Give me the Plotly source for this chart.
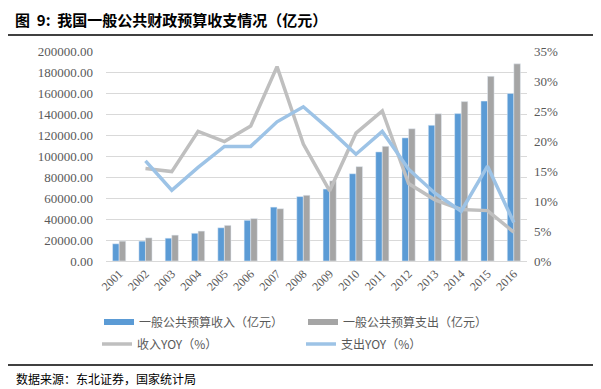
import plotly.graph_objects as go

years = [str(y) for y in range(2001, 2017)]
revenue = [16386, 18904, 21715, 26396, 31649, 38760, 51322, 61330, 68518,
           83102, 103874, 117254, 129210, 140370, 152269, 159605]
expenditure = [18903, 22053, 24650, 28487, 33930, 40423, 49781, 62593, 76300,
               89874, 109248, 125953, 140212, 151786, 175878, 187755]
rev_yoy = [None, 15.4, 14.9, 21.6, 19.9, 22.5, 32.4, 19.5, 11.7, 21.3, 25.0,
           12.9, 10.2, 8.6, 8.4, 4.8]
exp_yoy = [None, 16.7, 11.8, 15.6, 19.1, 19.1, 23.2, 25.7, 21.9, 17.8, 21.6,
           15.3, 11.3, 8.3, 15.8, 6.4]

names = ["一般公共预算收入（亿元）", "一般公共预算支出（亿元）", "收入YOY（%）", "支出YOY（%）"]
c_rev, c_exp, c_ryoy, c_eyoy = "#5b9bd5", "#a5a5a5", "#bfbfbf", "#9dc3e6"

# The page body keeps its default 8px margin, so the figure is 8px smaller
# and every page position below is given minus that offset.
OFF = 8
W, H = 601 - OFF, 389 - OFF
L, R, T, B = 106 - OFF, 527 - OFF, 51 - OFF, 261 - OFF
px = lambda x: (x - OFF - L) / (R - L)
py = lambda y: (B - (y - OFF)) / (B - T)

font_cjk = "Noto Sans CJK SC"
serif = "Liberation Serif, Noto Sans CJK SC"
tick_col = "#595959"

fig = go.Figure()
fig.add_trace(go.Bar(x=years, y=revenue, name=names[0], marker_color=c_rev,
                     showlegend=False, legendgroup="a"))
fig.add_trace(go.Bar(x=years, y=expenditure, name=names[1], marker_color=c_exp,
                     showlegend=False, legendgroup="b"))
# legend swatches for bars (wide flat rectangles like the reference)
fig.add_trace(go.Scatter(x=[None], y=[None], mode="lines", name=names[0],
                         line=dict(color=c_rev, width=6), legend="legend", legendgroup="a"))
fig.add_trace(go.Scatter(x=[None], y=[None], mode="lines", name=names[1],
                         line=dict(color=c_exp, width=6), legend="legend", legendgroup="b"))
fig.add_trace(go.Scatter(x=years, y=rev_yoy, name=names[2], mode="lines", yaxis="y2",
                         line=dict(color=c_ryoy, width=3.5), legend="legend2"))
fig.add_trace(go.Scatter(x=years, y=exp_yoy, name=names[3], mode="lines", yaxis="y2",
                         line=dict(color=c_eyoy, width=3.5), legend="legend2"))

legend_common = dict(orientation="h", xref="container", yref="container",
                     xanchor="left", yanchor="middle", entrywidth=159,
                     font=dict(family=font_cjk, size=12, color=tick_col),
                     bgcolor="rgba(0,0,0,0)", tracegroupgap=0, itemclick=False)

fig.update_layout(
    width=W, height=H,
    margin=dict(l=L, r=W - R, t=T, b=H - B),
    paper_bgcolor="white", plot_bgcolor="white",
    barmode="group", bargap=0.5, bargroupgap=0,
    title=dict(text="图  9:  我国一般公共财政预算收支情况（亿元）",
               xref="container", yref="container", x=(15 - OFF) / W, xanchor="left",
               y=1 - (21 - OFF) / H, yanchor="middle",
               font=dict(family=font_cjk, size=15, color="black", weight="bold")),
    xaxis=dict(type="category", tickangle=-45, showgrid=False,
               showline=True, linecolor="#d9d9d9", linewidth=1,
               ticks="", tickfont=dict(family=serif, size=12, color=tick_col)),
    yaxis=dict(range=[0, 200000], dtick=20000, tickformat=".2f",
               showgrid=True, gridcolor="#d9d9d9", gridwidth=1, zeroline=False,
               ticklabelstandoff=12,
               tickfont=dict(family=serif, size=13, color=tick_col)),
    yaxis2=dict(range=[0, 35], dtick=5, ticksuffix="%", overlaying="y", side="right",
                showgrid=False, zeroline=False, ticklabelstandoff=6,
                tickfont=dict(family=serif, size=13, color=tick_col)),
    legend=dict(x=(99 - OFF) / W, y=1 - (322 - OFF) / H, **legend_common),
    legend2=dict(x=(97 - OFF) / W, y=1 - (344 - OFF) / H, **legend_common),
    showlegend=True,
)

# separator lines
for yy in (35, 365):
    fig.add_shape(type="line", xref="paper", yref="paper", layer="above",
                  x0=px(8), x1=px(593), y0=py(yy), y1=py(yy),
                  line=dict(color="black", width=1.5))

fig.add_annotation(text="数据来源：东北证券，国家统计局", xref="paper", yref="paper",
                   x=px(14), y=py(378), xanchor="left", yanchor="middle", showarrow=False,
                   font=dict(family=font_cjk, size=12, color="black"))

fig.write_html("out.html", config={"displayModeBar": False})
